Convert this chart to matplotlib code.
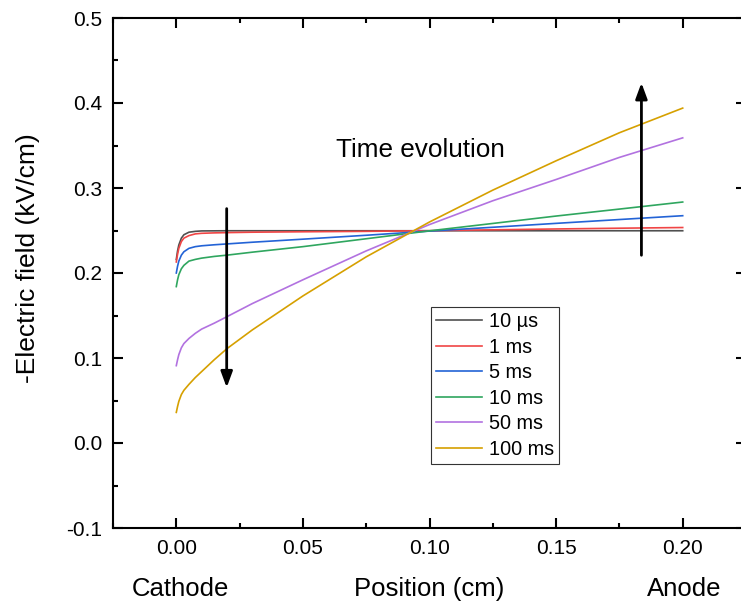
#!/usr/bin/env python3
"""Electric field profile between cathode and anode at several times."""

import matplotlib

matplotlib.use("Agg")
import matplotlib.pyplot as plt
from matplotlib.ticker import MultipleLocator

plt.rcParams["font.family"] = ["Liberation Sans", "DejaVu Sans"]

# position along the gap (cm)
position = [0.0, 0.0005, 0.001, 0.002, 0.003, 0.005, 0.0075, 0.01, 0.015, 0.02,
            0.03, 0.05, 0.075, 0.1, 0.125, 0.15, 0.175, 0.2]

# -E (kV/cm) for each time
field_10us = [0.216, 0.226, 0.233, 0.241, 0.245, 0.248, 0.249, 0.2495, 0.2496, 0.2497,
              0.2497, 0.2497, 0.2497, 0.2497, 0.2497, 0.2497, 0.2497, 0.2497]
field_1ms = [0.213, 0.222, 0.229, 0.237, 0.241, 0.244, 0.246, 0.2467, 0.2472, 0.2475,
             0.248, 0.2485, 0.249, 0.2498, 0.2508, 0.2518, 0.2527, 0.2535]
field_5ms = [0.200, 0.208, 0.214, 0.221, 0.225, 0.229, 0.231, 0.232, 0.2332, 0.2342,
             0.2362, 0.2398, 0.2444, 0.2493, 0.2538, 0.2584, 0.2629, 0.2674]
field_10ms = [0.184, 0.192, 0.198, 0.205, 0.209, 0.214, 0.216, 0.2175, 0.2195, 0.221,
              0.2245, 0.231, 0.2403, 0.2496, 0.2583, 0.267, 0.2752, 0.2835]
field_50ms = [0.091, 0.098, 0.104, 0.112, 0.117, 0.123, 0.129, 0.134, 0.141, 0.1486,
              0.164, 0.192, 0.226, 0.257, 0.285, 0.310, 0.336, 0.359]
field_100ms = [0.036, 0.043, 0.049, 0.057, 0.062, 0.069, 0.077, 0.084, 0.098, 0.111,
               0.133, 0.173, 0.219, 0.260, 0.2975, 0.332, 0.365, 0.394]

labels = ["10 \u00b5s", "1 ms", "5 ms", "10 ms", "50 ms", "100 ms"]
colors = ["#505050", "#f04545", "#2363d6", "#2fa65f", "#b272e0", "#d6a000"]
series = [field_10us, field_1ms, field_5ms, field_10ms, field_50ms, field_100ms]

fig = plt.figure(figsize=(7.41, 6.04), dpi=100)
ax = fig.add_axes([113 / 741, 1 - 528 / 604, 633 / 741, 510 / 604])

for vals, lab, col in zip(series, labels, colors):
    ax.plot(position, vals, color=col, lw=1.2, label=lab)

ax.set_xlim(-0.025, 0.225)
ax.set_ylim(-0.1, 0.5)
ax.xaxis.set_major_locator(MultipleLocator(0.05))
ax.xaxis.set_minor_locator(MultipleLocator(0.025))
ax.yaxis.set_major_locator(MultipleLocator(0.1))
ax.yaxis.set_minor_locator(MultipleLocator(0.05))
ax.xaxis.set_major_formatter(plt.FuncFormatter(lambda v, p: f"{v:.2f}"))
ax.yaxis.set_major_formatter(plt.FuncFormatter(lambda v, p: f"{v:.1f}"))
ax.tick_params(which="both", direction="in", top=True, right=True, width=1.5, labelsize=15)
ax.tick_params(which="major", length=7.5, pad=8)
ax.tick_params(which="minor", length=3.8)
for sp in ax.spines.values():
    sp.set_linewidth(1.5)

# arrows for the time evolution
head = "-|>,head_length=0.95,head_width=0.35"
ax.annotate("", xy=(0.0199, 0.062), xytext=(0.0199, 0.279),
            arrowprops=dict(arrowstyle=head, color="black", lw=2))
ax.annotate("", xy=(0.1837, 0.427), xytext=(0.1837, 0.2176),
            arrowprops=dict(arrowstyle=head, color="black", lw=2))
ax.text(0.0965, 0.3365, "Time evolution", fontsize=18.8, ha="center", va="baseline")

# axis labels
tr = ax.get_xaxis_transform()
ax.text(0.0016, -0.1333, "Cathode", fontsize=18.5, ha="center", va="baseline", transform=tr)
ax.text(0.1, -0.1333, "Position (cm)", fontsize=18.5, ha="center", va="baseline", transform=tr)
ax.text(0.2007, -0.1333, "Anode", fontsize=18.5, ha="center", va="baseline", transform=tr)
ax.text(-0.134, 0.529, "-Electric field (kV/cm)", fontsize=19, rotation=90,
        ha="center", va="center", transform=ax.transAxes)

leg = ax.legend(loc="upper left", bbox_to_anchor=(0.502, 0.433), borderaxespad=0,
                fontsize=14.3, fancybox=False, framealpha=1, edgecolor="#333333",
                handlelength=2.35, handletextpad=0.35, labelspacing=0.33, borderpad=0.25)
leg.get_frame().set_linewidth(0.8)

fig.savefig("out.png", dpi=100)
